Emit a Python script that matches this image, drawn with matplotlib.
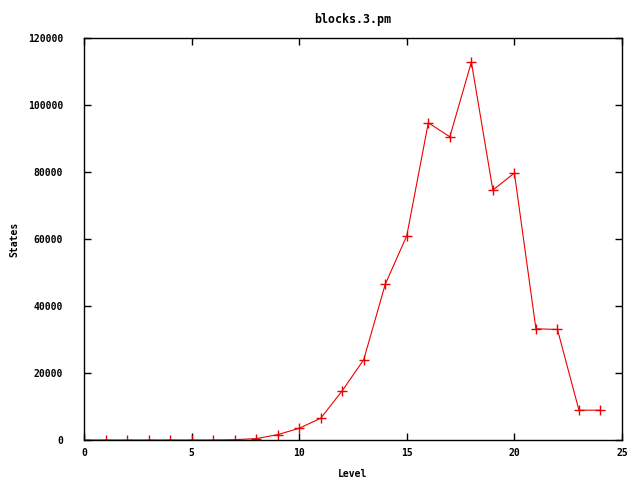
import matplotlib
matplotlib.use("Agg")
import matplotlib.pyplot as plt

levels = list(range(0, 25))
states = [0, 0, 0, 0, 0, 0, 0, 100, 400, 1600, 3500, 6500, 14700, 24000, 46500,
          61000, 94700, 90500, 112800, 74600, 79700, 33200, 33000, 8900, 8900]

xticks = [0, 5, 10, 15, 20, 25]
yticks = [0, 20000, 40000, 60000, 80000, 100000, 120000]

plt.rcParams["font.family"] = "DejaVu Sans Mono"
plt.rcParams["font.weight"] = "bold"
plt.rcParams["font.size"] = 7

fig = plt.figure(figsize=(6.4, 4.8), dpi=100)
ax = fig.add_axes([84 / 640, 40 / 480, 538 / 640, 402 / 480])

ax.plot(levels, states, color="#ee0000", linewidth=0.8, marker="+",
        markersize=7, markeredgewidth=1.0)

ax.set_xlim(0, 25)
ax.set_ylim(0, 120000)
ax.set_xticks(xticks)
ax.set_yticks(yticks)
ax.tick_params(direction="in", top=True, right=True, length=5, width=1)
ax.tick_params(axis="x", pad=6)
ax.tick_params(axis="y", pad=15)
for s in ax.spines.values():
    s.set_linewidth(1)

ax.set_xlabel("Level", fontweight="bold", labelpad=8)
ax.set_ylabel("States", fontweight="bold", labelpad=6)
ax.set_title("blocks.3.pm", fontweight="bold", pad=11)

fig.savefig("out.png", dpi=100)
